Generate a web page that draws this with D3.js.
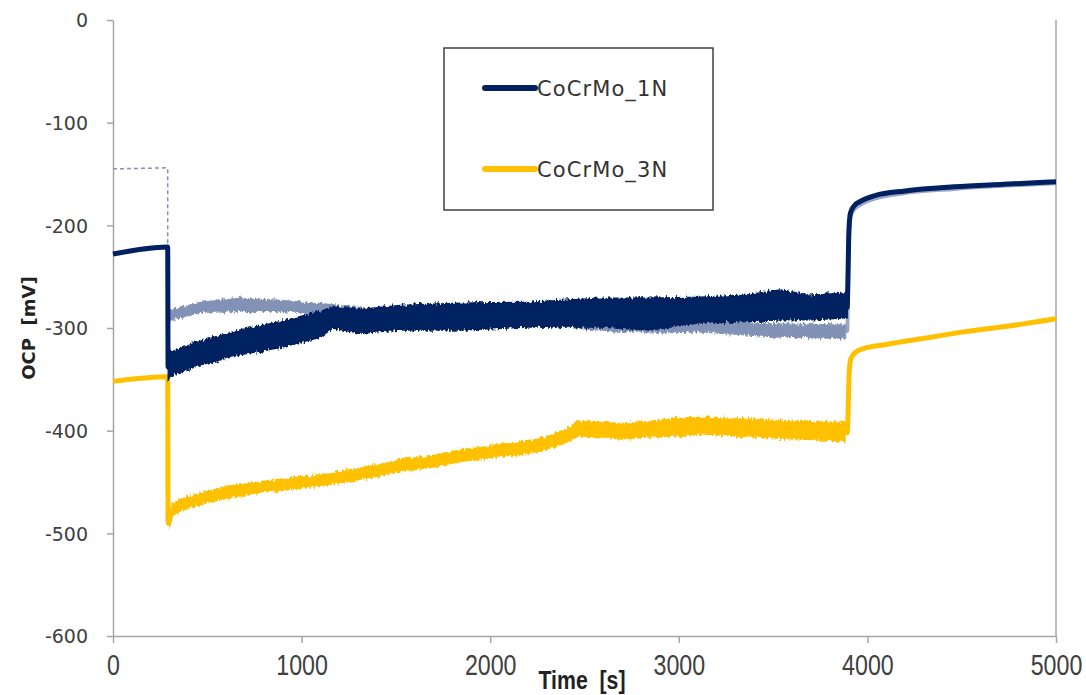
<!DOCTYPE html>
<html>
<head>
<meta charset="utf-8">
<script src="https://cdn.jsdelivr.net/npm/d3@7"></script>
<style>
  html, body { margin: 0; padding: 0; background: #fff; }
  svg { display: block; }
</style>
</head>
<body>
<svg id="chart" width="1086" height="695"></svg>
<script>
// ---- OCP vs time data (mV) ----
const xTicks = [0, 1000, 2000, 3000, 4000, 5000];
const yTicks = [0, -100, -200, -300, -400, -500, -600];

// CoCrMo_1N: main course (centre of the noisy band between 300 s and 3900 s)
const time1N  = [0, 290, 292, 300, 313, 460, 673, 885, 1098, 1166, 1310, 1522, 1840, 2211, 2582, 2847, 3112, 3350, 3537, 3700, 3881, 3893, 3897, 3902, 3910, 3930, 3960, 4040, 4200, 4460, 4720, 5000];
const value1N = [-228, -221, -338, -336, -334, -325, -314, -306, -296, -290, -293, -290, -289, -287, -285, -286, -282, -281, -277, -280, -278, -280, -250, -205, -188, -181, -177, -171, -166.5, -162.5, -160, -157.5];
// CoCrMo_1N noisy band envelope
const bandTime1N = [293, 313, 460, 673, 885, 1098, 1166, 1310, 1522, 1840, 2211, 2582, 2847, 3112, 3350, 3537, 3700, 3893];
const bandHigh1N = [-322, -323, -313, -302, -294, -284, -279.5, -282, -278, -276, -275, -271, -271, -270, -268, -263, -268, -266];
const bandLow1N  = [-350, -346, -336, -326, -319, -309, -300, -305, -302, -302, -299, -299, -302, -295, -294, -292, -292, -290];

// CoCrMo_3N: main course
const time3N  = [0, 290, 292, 300, 313, 355, 461, 620, 779, 938, 1098, 1257, 1416, 1522, 1681, 1840, 2052, 2211, 2317, 2397, 2460, 2582, 2688, 2847, 3000, 3112, 3377, 3643, 3881, 3893, 3898, 3903, 3912, 3935, 3980, 4100, 4300, 4500, 4750, 5000];
const value3N = [-352, -347.5, -490, -485, -477, -472, -466, -459, -455, -451, -448, -443, -438, -433, -430, -424, -419, -416, -411, -406, -398, -399, -400, -398, -396, -394.5, -397.5, -399, -401, -402, -380, -345, -330, -324, -320, -316, -310, -304, -298, -291];
// CoCrMo_3N noisy band envelope
const bandTime3N = [300, 313, 355, 461, 620, 779, 938, 1098, 1257, 1416, 1522, 1681, 1840, 2052, 2211, 2317, 2397, 2460, 2582, 2688, 2847, 3000, 3112, 3377, 3643, 3881];
const bandHigh3N = [-480, -472, -467, -461, -454, -450, -446, -443, -438, -433, -428, -425, -419, -413, -410, -405, -400, -391, -392, -393, -391, -388, -387, -389, -391, -392];
const bandLow3N  = [-495, -483, -478, -472, -465, -460, -457, -454, -449, -444, -439, -436, -430, -425, -422, -417, -412, -405, -406, -408, -406, -405, -403, -406, -408, -410];

// Reference run (unlabelled, light trace)
const timeRefPre  = [0, 290, 290];
const valueRefPre = [-145, -144, -289];
const bandTimeRef = [295, 313, 460, 673, 885, 1098, 1310, 1522, 1840, 2211, 2582, 2847, 3112, 3537, 3885];
const bandHighRef = [-284, -282, -275, -271, -273, -276, -280, -283, -285, -287, -291, -293, -294, -296, -297];
const bandLowRef  = [-294, -292, -285, -284, -284, -286, -290, -293, -296, -297, -302, -305, -304, -309, -310];
const timeRefPost  = [3885, 3893, 3898, 3904, 3912, 3932, 3962, 4040, 4200, 4460, 4720, 5000];
const valueRefPost = [-303, -303, -255, -205, -191, -184, -180, -174, -168.5, -164.5, -161.5, -159];

const seriesNames = ["CoCrMo_1N", "CoCrMo_3N"];

// ---- layout ----
const NAVY = "#002060", GOLD = "#FFC000", LIGHT = "#8292b6", AXIS = "#a6a6a6";
const svg = d3.select("#chart");
const x = d3.scaleLinear().domain([0, 5000]).range([113, 1056]);
const y = d3.scaleLinear().domain([-600, 0]).range([636, 20]);

// vertical-only roughening of the noisy bands' edges
const defs = svg.append("defs");
const rough = defs.append("filter").attr("id", "rough")
  .attr("x", "-1%").attr("y", "-30%").attr("width", "102%").attr("height", "160%");
rough.append("feTurbulence").attr("type", "fractalNoise")
  .attr("baseFrequency", "0.5 0.2").attr("numOctaves", 2).attr("seed", 4).attr("result", "n");
rough.append("feColorMatrix").attr("in", "n").attr("type", "matrix")
  .attr("values", "0 0 0 0 0.5  0 1 0 0 0  0 0 0 0 0  0 0 0 0 1").attr("result", "ny");
rough.append("feDisplacementMap").attr("in", "SourceGraphic").attr("in2", "ny")
  .attr("scale", 7).attr("xChannelSelector", "R").attr("yChannelSelector", "G");

const zip = (t, v) => t.map((d, i) => [d, v[i]]);
const line = d3.line().x(d => x(d[0])).y(d => y(d[1]));
const smoothLine = d3.line().x(d => x(d[0])).y(d => y(d[1])).curve(d3.curveMonotoneX);
const band = (t, lo, hi) => d3.area()
  .x((d, i) => x(t[i])).y0((d, i) => y(lo[i])).y1((d, i) => y(hi[i]))(t);

// ---- axes ----
const gy = svg.append("g").attr("transform", `translate(${x(0)},0)`)
  .call(d3.axisLeft(y).tickValues(yTicks).tickSize(6).tickSizeOuter(0).tickFormat(d => String(d)));
const gx = svg.append("g").attr("transform", `translate(0,${y(-600)})`)
  .call(d3.axisBottom(x).tickValues(xTicks).tickSize(7).tickSizeOuter(0).tickFormat(d => String(d)));
[gx, gy].forEach(g => {
  g.select(".domain").attr("stroke", AXIS).attr("stroke-width", 1.5);
  g.selectAll(".tick line").attr("stroke", AXIS).attr("stroke-width", 1.5);
});
gy.selectAll(".tick text")
  .attr("x", -25).attr("dy", "0.36em")
  .attr("font-family", "'DejaVu Sans', Verdana, sans-serif").attr("font-size", 19).attr("fill", "#404040");
gx.selectAll(".tick text")
  .attr("y", 0).attr("dy", 0)
  .attr("transform", "translate(0,39) scale(0.8,1)")
  .attr("font-family", "'Liberation Sans', Arial, sans-serif").attr("font-size", 29).attr("fill", "#404040");
// right frame line
svg.append("line").attr("x1", x(5000)).attr("x2", x(5000)).attr("y1", y(0)).attr("y2", y(-600))
  .attr("stroke", AXIS).attr("stroke-width", 1.5);

// axis titles
svg.append("text").attr("transform", "translate(582,689) scale(0.85,1)").attr("text-anchor", "middle")
  .attr("font-family", "'Liberation Sans', Arial, sans-serif")
  .attr("font-weight", "bold").attr("font-size", 25).attr("fill", "#222")
  .attr("xml:space", "preserve").text("Time  [s]");
svg.append("text").attr("transform", `translate(35,${y(-300)}) rotate(-90)`)
  .attr("text-anchor", "middle")
  .attr("font-family", "'DejaVu Sans', Verdana, sans-serif")
  .attr("font-weight", "bold").attr("font-size", 18).attr("fill", "#222")
  .attr("xml:space", "preserve").text("OCP  [mV]");

// ---- data marks ----
const plot = svg.append("g");

// light reference trace
plot.append("path").attr("d", line(zip(timeRefPre, valueRefPre)))
  .attr("fill", "none").attr("stroke", LIGHT).attr("stroke-width", 1.5).attr("stroke-dasharray", "4,3");
plot.append("path").attr("d", band(bandTimeRef, bandLowRef, bandHighRef))
  .attr("fill", LIGHT).attr("stroke", LIGHT).attr("stroke-width", 1).attr("filter", "url(#rough)");
plot.append("path").attr("d", smoothLine(zip(timeRefPost, valueRefPost)))
  .attr("fill", "none").attr("stroke", LIGHT).attr("stroke-width", 4).attr("opacity", 0.8);

// CoCrMo_3N
plot.append("path").attr("d", smoothLine(zip(time3N, value3N)))
  .attr("fill", "none").attr("stroke", GOLD).attr("stroke-width", 5).attr("stroke-linejoin", "round");
plot.append("path").attr("d", band(bandTime3N, bandLow3N, bandHigh3N))
  .attr("fill", GOLD).attr("stroke", GOLD).attr("stroke-width", 1.5).attr("filter", "url(#rough)");

// CoCrMo_1N
plot.append("path").attr("d", smoothLine(zip(time1N, value1N)))
  .attr("fill", "none").attr("stroke", NAVY).attr("stroke-width", 5).attr("stroke-linejoin", "round");
plot.append("path").attr("d", band(bandTime1N, bandLow1N, bandHigh1N))
  .attr("fill", NAVY).attr("stroke", NAVY).attr("stroke-width", 1.5).attr("filter", "url(#rough)");

// ---- legend ----
const lg = svg.append("g");
lg.append("rect").attr("x", 444).attr("y", 48).attr("width", 269).attr("height", 162)
  .attr("fill", "#fff").attr("stroke", "#404040").attr("stroke-width", 1.5);
[NAVY, GOLD].forEach((c, i) => {
  const yy = 88 + i * 81;
  lg.append("line").attr("x1", 485).attr("x2", 535).attr("y1", yy).attr("y2", yy)
    .attr("stroke", c).attr("stroke-width", 6).attr("stroke-linecap", "round");
  lg.append("text").attr("x", 537).attr("y", yy).attr("dy", "0.36em")
    .attr("font-family", "'DejaVu Sans', Verdana, sans-serif").attr("font-size", 21)
    .attr("letter-spacing", 1.1)
    .attr("fill", "#333").text(seriesNames[i]);
});
</script>
</body>
</html>
